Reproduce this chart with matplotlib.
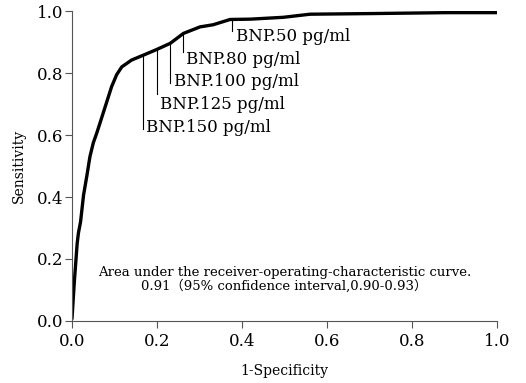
import matplotlib
matplotlib.use('Agg')
import matplotlib.pyplot as plt

# ROC curve
fpr = [0.0, 0.005, 0.012, 0.015, 0.02, 0.027, 0.035, 0.042, 0.05, 0.058, 0.066,
       0.08, 0.093, 0.105, 0.117, 0.14, 0.168, 0.199, 0.231, 0.262, 0.301,
       0.332, 0.372, 0.419, 0.497, 0.56, 0.7, 0.88, 1.0]
tpr = [0.01, 0.12, 0.25, 0.284, 0.32, 0.406, 0.47, 0.53, 0.575, 0.606, 0.64,
       0.70, 0.756, 0.795, 0.82, 0.842, 0.858, 0.876, 0.896, 0.928, 0.949,
       0.956, 0.973, 0.974, 0.98, 0.99, 0.992, 0.995, 0.995]

# cut-off markers: label, x on curve, y on curve, bottom of line, label y
cut_labels = ['BNP.150 pg/ml', 'BNP.125 pg/ml', 'BNP.100 pg/ml', 'BNP.80 pg/ml', 'BNP.50 pg/ml']
cut_x = [0.166, 0.200, 0.231, 0.261, 0.377]
cut_y = [0.858, 0.876, 0.896, 0.925, 0.973]
cut_low = [0.62, 0.731, 0.769, 0.869, 0.935]
text_y = [0.625, 0.697, 0.772, 0.844, 0.917]

ticks = [0.0, 0.2, 0.4, 0.6, 0.8, 1.0]
fonts = ['DejaVu Serif', 'Noto Sans CJK SC']

plt.rcParams['font.family'] = fonts

fig = plt.figure(figsize=(5.26, 3.83), dpi=100)
ax = fig.add_axes([0.137, 0.162, 0.808, 0.809])

ax.plot(fpr, tpr, color='black', lw=2.4, solid_joinstyle='round')

for lab, x, y, lo, ty in zip(cut_labels, cut_x, cut_y, cut_low, text_y):
    ax.plot([x, x], [y, lo], color='black', lw=0.8)
    ax.text(x + 0.008, ty, lab, fontsize=12, va='center', ha='left')

ax.text(0.5, 0.156, 'Area under the receiver-operating-characteristic curve.',
        fontsize=9.5, ha='center', va='center')
ax.text(0.5, 0.113, '0.91\uff0895% confidence interval,0.90-0.93\uff09',
        fontsize=9.5, ha='center', va='center')

ax.set_xlim(0, 1)
ax.set_ylim(0, 1)
ax.set_xticks(ticks)
ax.set_yticks(ticks)
ax.set_xticklabels(['%.1f' % t for t in ticks])
ax.set_yticklabels(['%.1f' % t for t in ticks])
ax.tick_params(labelsize=12, direction='out', length=5, color='#555555')
ax.tick_params(axis='x', pad=4)
ax.tick_params(axis='y', pad=1)
for s in ['top', 'right']:
    ax.spines[s].set_visible(False)
for s in ['left', 'bottom']:
    ax.spines[s].set_color('#555555')

ax.set_xlabel('1-Specificity', fontsize=10, labelpad=10)
ax.set_ylabel('Sensitivity', fontsize=10, labelpad=8)

fig.savefig('out.png', dpi=100)
